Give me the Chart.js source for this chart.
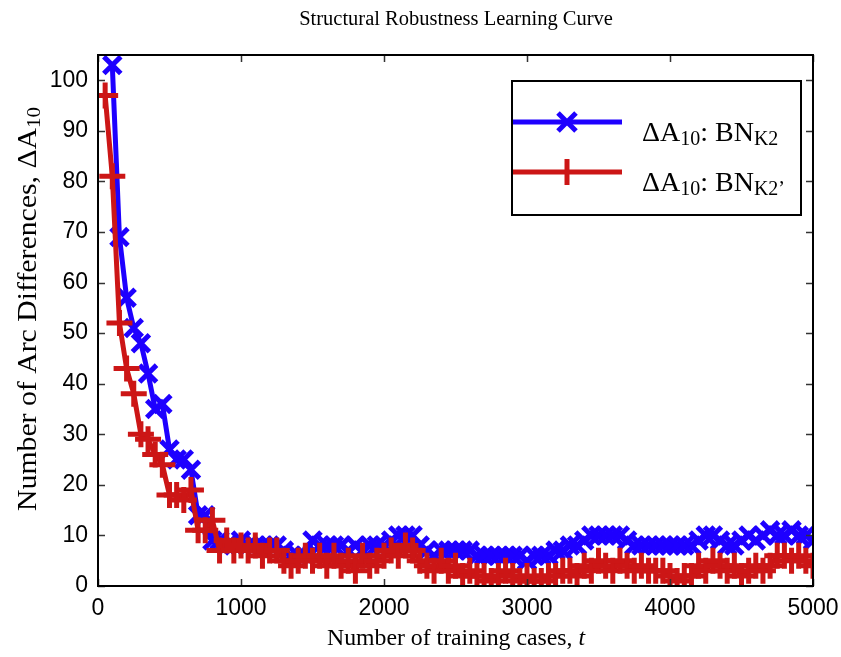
<!DOCTYPE html>
<html>
<head>
<meta charset="utf-8">
<script src="https://cdn.jsdelivr.net/npm/chart.js@4.4.0/dist/chart.umd.min.js"></script>
<style>
  html, body { margin: 0; padding: 0; background: #ffffff; }
  #wrap { width: 841px; height: 657px; }
</style>
</head>
<body>
<div id="wrap"><canvas id="c" width="841" height="657"></canvas></div>
<script>
// ---- Data ----
const trainingCases = [50,100,150,200,250,300,350,400,450,500,550,600,650,700,750,800,850,900,950,1000,
  1050,1100,1150,1200,1250,1300,1350,1400,1450,1500,1550,1600,1650,1700,1750,1800,1850,1900,1950,2000,
  2050,2100,2150,2200,2250,2300,2350,2400,2450,2500,2550,2600,2650,2700,2750,2800,2850,2900,2950,3000,
  3050,3100,3150,3200,3250,3300,3350,3400,3450,3500,3550,3600,3650,3700,3750,3800,3850,3900,3950,4000,
  4050,4100,4150,4200,4250,4300,4350,4400,4450,4500,4550,4600,4650,4700,4750,4800,4850,4900,4950,5000];

const bnK2 = [null,103,69,57,51,48,42,35,36,27,25,25,23,14,14,9,9,8,8,9,
  8,8,8,8,8,7,6,6,6,9,8,8,8,8,7,8,7,8,8,8,
  9,10,10,10,8,7,6,7,7,7,7,7,6,6,6,6,6,6,6,5,
  6,6,6,7,7,8,8,9,10,10,10,10,10,9,8,8,8,8,8,8,
  8,8,8,9,10,10,9,8,8,9,10,9,10,11,10,10,11,10,10,9];

const bnK2p = [97,81,52,43,38,30,29,26,24,18,18,17,19,11,11,13,7,9,7,8,
  7,8,6,7,7,5,4,5,6,5,6,4,6,4,5,3,6,4,5,6,
  7,6,8,7,5,4,3,5,3,4,2,3,2,2,1,2,3,2,1,2,
  1,1,2,2,3,3,2,4,3,5,4,3,5,4,3,4,3,3,3,2,
  1,2,2,4,3,5,4,3,4,2,3,4,3,4,6,6,5,6,5,4];

const xTickValues = [0,1000,2000,3000,4000,5000];
const yTickValues = [0,10,20,30,40,50,60,70,80,90,100];

const chartTitle = 'Structural Robustness Learning Curve';
const xTitle = 'Number of training cases, ';
const xTitleItalic = 't';
const yTitle = 'Number of Arc Differences, ΔA';
const yTitleSub = '10';
const legendLabels = [
  { main: 'ΔA', sub1: '10', mid: ': BN', sub2: 'K2' },
  { main: 'ΔA', sub1: '10', mid: ': BN', sub2: 'K2’' }
];

const BLUE = '#1e00ff';
const RED = '#cc1616';

function toPoints(values) {
  return trainingCases.map((x, i) => ({ x: x, y: values[i] }));
}

const SERIF = '"Liberation Serif", "Times New Roman", serif';
const SANS = '"Liberation Sans", Arial, sans-serif';

const decorPlugin = {
  id: 'decor',
  afterDraw(chart) {
    const ctx = chart.ctx;
    const a = chart.chartArea;
    const xs = chart.scales.x, ys = chart.scales.y;
    ctx.save();
    // Inward ticks on all four sides
    ctx.strokeStyle = '#333';
    ctx.lineWidth = 1.5;
    const tl = 7;
    xTickValues.forEach(v => {
      const px = Math.round(xs.getPixelForValue(v)) + 0.5;
      ctx.beginPath();
      ctx.moveTo(px, a.bottom); ctx.lineTo(px, a.bottom - tl);
      ctx.moveTo(px, a.top); ctx.lineTo(px, a.top + tl);
      ctx.stroke();
    });
    yTickValues.forEach(v => {
      const py = Math.round(ys.getPixelForValue(v)) + 0.5;
      ctx.beginPath();
      ctx.moveTo(a.left, py); ctx.lineTo(a.left + tl, py);
      ctx.moveTo(a.right, py); ctx.lineTo(a.right - tl, py);
      ctx.stroke();
    });
    // Frame
    ctx.strokeStyle = '#000';
    ctx.lineWidth = 2;
    ctx.strokeRect(a.left, a.top, a.right - a.left, a.bottom - a.top);

    // Title
    ctx.fillStyle = '#000';
    ctx.font = '20.5px ' + SERIF;
    ctx.textAlign = 'center';
    ctx.textBaseline = 'alphabetic';
    ctx.fillText(chartTitle, 456, 25);

    // X title (fitted to reference length)
    ctx.save();
    ctx.font = '24px ' + SERIF;
    const w1 = ctx.measureText(xTitle).width;
    ctx.font = 'italic 24px ' + SERIF;
    const w2 = ctx.measureText(xTitleItalic).width;
    const xsf = 258 / (w1 + w2);
    ctx.translate(456, 645);
    ctx.scale(xsf, 1);
    ctx.textAlign = 'left';
    ctx.font = '24px ' + SERIF;
    ctx.fillText(xTitle, -(w1 + w2) / 2, 0);
    ctx.font = 'italic 24px ' + SERIF;
    ctx.fillText(xTitleItalic, -(w1 + w2) / 2 + w1, 0);
    ctx.restore();

    // Y title (rotated, fitted to reference length)
    ctx.save();
    ctx.translate(36, 309);
    ctx.rotate(-Math.PI / 2);
    ctx.font = '27px ' + SERIF;
    const m1 = ctx.measureText(yTitle).width;
    ctx.font = '19px ' + SERIF;
    const m2 = ctx.measureText(yTitleSub).width;
    const ysf = 404 / (m1 + m2);
    ctx.scale(ysf, 1);
    const start = -(m1 + m2) / 2;
    ctx.textAlign = 'left';
    ctx.font = '27px ' + SERIF;
    ctx.fillText(yTitle, start, 0);
    ctx.font = '19px ' + SERIF;
    ctx.fillText(yTitleSub, start + m1, 4);
    ctx.restore();

    // Legend
    const lx = 512, ly = 81, lw = 289, lh = 134;
    ctx.fillStyle = '#fff';
    ctx.fillRect(lx, ly, lw, lh);
    ctx.strokeStyle = '#000';
    ctx.lineWidth = 2;
    ctx.strokeRect(lx, ly, lw, lh);
    const entries = [
      { y: 122, color: BLUE, style: 'x' },
      { y: 172, color: RED, style: '+' }
    ];
    entries.forEach((e, i) => {
      ctx.strokeStyle = e.color;
      ctx.lineWidth = 5;
      ctx.lineCap = 'butt';
      ctx.beginPath();
      ctx.moveTo(lx + 1, e.y); ctx.lineTo(622, e.y);
      ctx.stroke();
      ctx.lineWidth = 5;
      ctx.beginPath();
      if (e.style === 'x') {
        const r = 9;
        ctx.moveTo(567 - r, e.y - r); ctx.lineTo(567 + r, e.y + r);
        ctx.moveTo(567 + r, e.y - r); ctx.lineTo(567 - r, e.y + r);
      } else {
        const r = 13;
        ctx.moveTo(567, e.y - r); ctx.lineTo(567, e.y + r);
      }
      ctx.stroke();
      const lab = legendLabels[i];
      const base = e.y + 19;
      let tx = 642;
      ctx.fillStyle = '#000';
      ctx.textAlign = 'left';
      ctx.font = '28px ' + SERIF;
      ctx.fillText(lab.main, tx, base); tx += ctx.measureText(lab.main).width;
      ctx.font = '20px ' + SERIF;
      ctx.fillText(lab.sub1, tx, base + 4); tx += ctx.measureText(lab.sub1).width;
      ctx.font = '28px ' + SERIF;
      ctx.fillText(lab.mid, tx, base); tx += ctx.measureText(lab.mid).width;
      ctx.font = '20px ' + SERIF;
      ctx.fillText(lab.sub2, tx, base + 4);
    });
    ctx.restore();
  }
};

new Chart(document.getElementById('c'), {
  type: 'line',
  data: {
    datasets: [
      {
        label: 'ΔA10: BNK2\'',
        data: toPoints(bnK2p),
        borderColor: RED,
        backgroundColor: RED,
        borderWidth: 5,
        pointStyle: 'cross',
        pointRadius: 13,
        pointBorderWidth: 5,
        pointBorderColor: RED,
        pointHoverRadius: 13,
        tension: 0,
        spanGaps: false,
        order: 0
      },
      {
        label: 'ΔA10: BNK2',
        data: toPoints(bnK2),
        borderColor: BLUE,
        backgroundColor: BLUE,
        borderWidth: 5,
        pointStyle: 'crossRot',
        pointRadius: 12,
        pointBorderWidth: 5,
        pointBorderColor: BLUE,
        pointHoverRadius: 12,
        tension: 0,
        spanGaps: false,
        order: 1
      }
    ]
  },
  options: {
    responsive: false,
    animation: false,
    events: [],
    layout: { padding: { left: 0, right: 28, top: 55, bottom: 0 } },
    plugins: {
      legend: { display: false },
      title: { display: false },
      tooltip: { enabled: false }
    },
    scales: {
      x: {
        type: 'linear',
        min: 0,
        max: 5000,
        afterFit(s) { s.height = 71; s.paddingLeft = 0; s.paddingRight = 0; },
        afterBuildTicks(s) { s.ticks = xTickValues.map(v => ({ value: v })); },
        grid: { display: false, drawTicks: false },
        border: { display: false },
        ticks: {
          padding: 9,
          maxRotation: 0,
          color: '#000',
          font: { family: SANS, size: 23 },
          callback: (v) => String(v)
        }
      },
      y: {
        type: 'linear',
        min: 0,
        max: 105,
        afterFit(s) { s.width = 98; s.paddingTop = 0; s.paddingBottom = 0; },
        afterBuildTicks(s) { s.ticks = yTickValues.map(v => ({ value: v })); },
        grid: { display: false, drawTicks: false },
        border: { display: false },
        ticks: {
          padding: 10,
          color: '#000',
          font: { family: SANS, size: 23 },
          callback: (v) => String(v)
        }
      }
    }
  },
  plugins: [decorPlugin]
});
</script>
</body>
</html>
